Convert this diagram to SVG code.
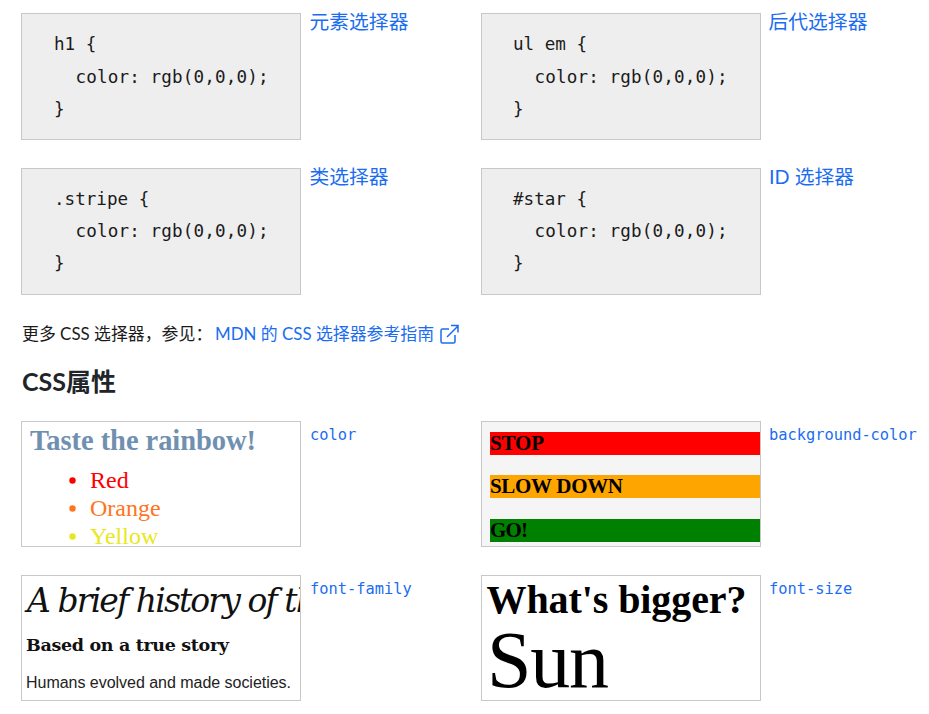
<svg xmlns="http://www.w3.org/2000/svg" width="929" height="714" viewBox="0 0 929 714">
<style>
.box{fill:#eee;stroke:#c8c8c8;stroke-width:1}
.img{fill:#fff;stroke:#c8c8c8;stroke-width:1}
.code{font-family:"DejaVu Sans Mono",monospace;font-size:17.6px;fill:#1b1b1b}
.link{font-family:"Lato","Noto Sans CJK SC",sans-serif;font-size:19.8px;fill:#1a6df0}
.mono{font-family:"DejaVu Sans Mono",monospace;font-size:15.35px;fill:#1a6df0}
.s{font-family:"Liberation Serif",serif}
.p{font-family:"Lato","Noto Sans CJK SC",sans-serif;font-size:16.9px}
</style>
<defs>
<clipPath id="c1"><rect x="22" y="422" width="278" height="124"/></clipPath>
<clipPath id="c3"><rect x="22" y="576" width="278" height="124"/></clipPath>
</defs>
<g id="connectors"/>
<g id="node-element">
<rect class="box" x="21.500" y="13.500" width="279" height="126"/>
<text class="code" x="54" y="50">h1 {</text>
<text class="code" x="75.500" y="83" textLength="193">color: rgb(0,0,0);</text>
<text class="code" x="54" y="115">}</text>
<text class="link" x="309.500" y="28.500">元素选择器</text>
</g>
<g id="node-descendant">
<rect class="box" x="481.500" y="13.500" width="279" height="126"/>
<text class="code" x="513" y="50">ul em {</text>
<text class="code" x="534.500" y="83" textLength="193">color: rgb(0,0,0);</text>
<text class="code" x="513" y="115">}</text>
<text class="link" x="768.500" y="28.500">后代选择器</text>
</g>
<g id="node-class">
<rect class="box" x="21.500" y="168.500" width="279" height="126"/>
<text class="code" x="54" y="205">.stripe {</text>
<text class="code" x="75.500" y="237" textLength="193">color: rgb(0,0,0);</text>
<text class="code" x="54" y="269">}</text>
<text class="link" x="309.500" y="183.500">类选择器</text>
</g>
<g id="node-id">
<rect class="box" x="481.500" y="168.500" width="279" height="126"/>
<text class="code" x="513" y="205">#star {</text>
<text class="code" x="534.500" y="237" textLength="193">color: rgb(0,0,0);</text>
<text class="code" x="513" y="269">}</text>
<text class="link" x="769" y="183.500">ID 选择器</text>
</g>
<g id="more">
<text class="p" x="22" y="339.500" fill="#1b1b1b">更多 CSS 选择器，参见：</text>
<text class="p" x="215" y="339.500" fill="#1a6df0">MDN 的 CSS 选择器参考指南</text>
<path d="M449 329h-6.500a1.500 1.500 0 0 0-1.500 1.500v11a1.500 1.500 0 0 0 1.500 1.500h11a1.500 1.500 0 0 0 1.500-1.500v-6.500M447 337l11-11M451 325.500h7v7" fill="none" stroke="#1a6df0" stroke-width="1.500"/>
<text x="22" y="391" font-family="Lato,'Noto Sans CJK SC',sans-serif" font-size="25" font-weight="700" fill="#212529">CSS属性</text>
</g>
<g id="node-color">
<rect class="img" x="21.500" y="421.500" width="279" height="125"/>
<g clip-path="url(#c1)">
<text class="s" x="30" y="450" font-size="28.500" font-weight="700" fill="#7090b0" textLength="226">Taste the rainbow!</text>
<circle cx="72.500" cy="480.500" r="3.200" fill="#f00"/>
<text class="s" x="90" y="488" font-size="24" fill="#f00">Red</text>
<circle cx="72.500" cy="508.500" r="3.200" fill="#ff7420"/>
<text class="s" x="90" y="516" font-size="24" fill="#ff7420">Orange</text>
<circle cx="72.500" cy="536.500" r="3.200" fill="#e8e820"/>
<text class="s" x="90" y="544" font-size="24" fill="#e8e820">Yellow</text>
</g>
<text class="mono" x="310" y="440">color</text>
</g>
<g id="node-background">
<rect class="img" x="481.500" y="421.500" width="279" height="125" style="fill:#f5f5f5"/>
<rect x="490" y="432" width="270" height="23" fill="#f00"/>
<rect x="490" y="475" width="270" height="23" fill="#ffa500"/>
<rect x="490" y="519" width="270" height="23" fill="#008000"/>
<g class="s" font-size="21" font-weight="700" fill="#000">
<text x="490" y="450" textLength="54">STOP</text>
<text x="490" y="493" textLength="133">SLOW DOWN</text>
<text x="490" y="537" textLength="38">GO!</text>
</g>
<text class="mono" x="769" y="440">background-color</text>
</g>
<g id="node-family">
<rect class="img" x="21.500" y="575.500" width="279" height="125"/>
<g clip-path="url(#c3)">
<text x="27" y="612" font-family="'DejaVu Serif',serif" font-style="italic" font-size="33" fill="#111" textLength="290">A brief history of th</text>
<text x="26" y="651" font-family="'DejaVu Serif',serif" font-weight="700" font-size="17.500" fill="#111" textLength="203">Based on a true story</text>
<text x="26" y="688" font-family="'Liberation Sans',sans-serif" font-size="16" fill="#222" textLength="265">Humans evolved and made societies.</text>
</g>
<text class="mono" x="310" y="594">font-family</text>
</g>
<g id="node-size">
<rect class="img" x="481.500" y="575.500" width="279" height="125"/>
<text class="s" x="486.500" y="613" font-size="40" font-weight="700" fill="#000" textLength="260">What's bigger?</text>
<text class="s" x="487" y="687" font-size="80" fill="#000" textLength="122">Sun</text>
<text class="mono" x="769" y="594">font-size</text>
</g>
</svg>
